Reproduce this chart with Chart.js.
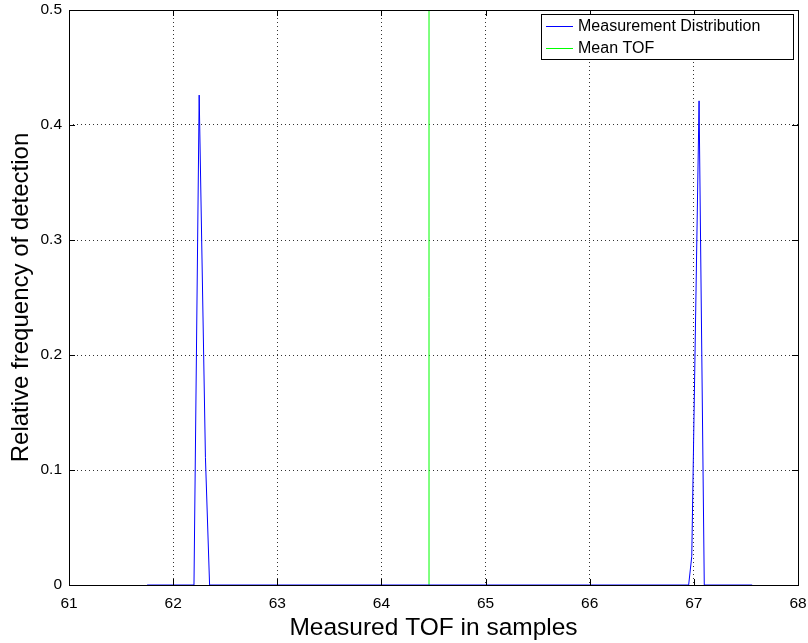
<!DOCTYPE html>
<html>
<head>
<meta charset="utf-8">
<script src="https://cdn.jsdelivr.net/npm/chart.js@4/dist/chart.umd.min.js"></script>
<style>
  html, body { margin: 0; padding: 0; background: #fff; }
  #wrap { width: 808px; height: 643px; position: relative; }
</style>
</head>
<body>
<div id="wrap"><canvas id="tofChart"></canvas></div>
<script>
// measured distribution (x = TOF in samples, y = relative frequency)
const distX = [61.75, 62.20, 62.25, 62.31, 62.35, 66.95, 66.98, 67.05, 67.10, 67.56];
const distY = [0, 0, 0.426, 0.111, 0, 0, 0.025, 0.421, 0, 0];
const meanTof = 64.457;
const xTicks = [61, 62, 63, 64, 65, 66, 67, 68];
const yTicks = [0, 0.1, 0.2, 0.3, 0.4, 0.5];
const seriesNames = ['Measurement Distribution', 'Mean TOF'];
const seriesColors = ['#0000ff', '#00ff00'];

const FONT = '"Liberation Sans", Arial, sans-serif';

// matlab style inward tick marks + legend box
const axesExtras = {
    id: 'axesExtras',
    afterDraw(chart) {
        const c = chart.ctx, a = chart.chartArea;
        const xs = chart.scales.x, ys = chart.scales.y;
        c.save();
        c.strokeStyle = '#000';
        c.lineWidth = 1;
        c.beginPath();
        xTicks.forEach(v => {
            const px = Math.round(xs.getPixelForValue(v)) + 0.5;
            c.moveTo(px, a.bottom); c.lineTo(px, a.bottom - 6);
            c.moveTo(px, a.top); c.lineTo(px, a.top + 6);
        });
        yTicks.forEach(v => {
            const py = Math.round(ys.getPixelForValue(v)) + 0.5;
            c.moveTo(a.left, py); c.lineTo(a.left + 6, py);
            c.moveTo(a.right, py); c.lineTo(a.right - 6, py);
        });
        c.stroke();
        c.strokeRect(Math.round(a.left) + 0.5, Math.round(a.top) + 0.5,
                     Math.round(a.right - a.left), Math.round(a.bottom - a.top));

        // legend
        const lx = 541, ly = 14, lw = 252, lh = 45;
        c.fillStyle = '#fff';
        c.fillRect(lx, ly, lw, lh);
        c.strokeStyle = '#000';
        c.strokeRect(lx + 0.5, ly + 0.5, lw, lh);
        const rows = [26, 48];
        c.font = '16px ' + FONT;
        c.textBaseline = 'middle';
        c.textAlign = 'left';
        seriesNames.forEach((name, i) => {
            c.strokeStyle = seriesColors[i];
            c.beginPath();
            c.moveTo(546, rows[i] + 0.5); c.lineTo(573, rows[i] + 0.5);
            c.stroke();
            c.fillStyle = '#000';
            c.fillText(name, 578, rows[i] + 1);
        });
        c.restore();
    }
};

new Chart(document.getElementById('tofChart'), {
    type: 'line',
    data: {
        datasets: [{
            label: seriesNames[0],
            data: distX.map((x, i) => ({ x: x, y: distY[i] })),
            borderColor: seriesColors[0],
            borderWidth: 1,
            pointRadius: 0,
            tension: 0
        }, {
            label: seriesNames[1],
            data: [{ x: meanTof, y: 0 }, { x: meanTof, y: 0.5 }],
            borderColor: seriesColors[1],
            borderWidth: 1,
            pointRadius: 0
        }]
    },
    options: {
        responsive: true,
        maintainAspectRatio: false,
        animation: false,
        layout: { padding: { top: 10, right: 10, left: 0, bottom: 0 } },
        plugins: { legend: { display: false }, tooltip: { enabled: false } },
        scales: {
            x: {
                type: 'linear', min: 61, max: 68,
                afterBuildTicks: s => { s.ticks = xTicks.map(v => ({ value: v })); },
                afterFit: s => { s.height = 58; s.paddingLeft = 0; s.paddingRight = 0; },
                grid: { color: '#333', lineWidth: 1, drawTicks: false },
                border: { display: false, dash: [1, 3] },
                ticks: { color: '#000', padding: 9, font: { family: FONT, size: 15.5 }, maxRotation: 0 },
                title: { display: true, text: 'Measured TOF in samples', color: '#000',
                         font: { family: FONT, size: 24.5 }, padding: { top: 0, bottom: 0 } }
            },
            y: {
                min: 0, max: 0.5,
                afterBuildTicks: s => { s.ticks = yTicks.map(v => ({ value: v })); },
                afterFit: s => { s.width = 69; s.paddingTop = 0; s.paddingBottom = 0; },
                grid: { color: '#333', lineWidth: 1, drawTicks: false },
                border: { display: false, dash: [1, 3] },
                ticks: { color: '#000', padding: 7, font: { family: FONT, size: 15.5 },
                         callback: v => String(Math.round(v * 10) / 10) },
                title: { display: true, text: 'Relative frequency of detection', color: '#000',
                         font: { family: FONT, size: 24 }, padding: { top: 7, bottom: 0 } }
            }
        }
    },
    plugins: [axesExtras]
});
</script>
</body>
</html>
